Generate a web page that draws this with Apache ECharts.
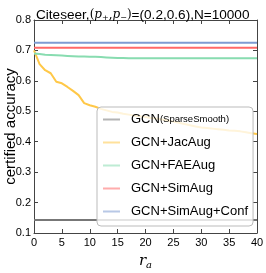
<!DOCTYPE html>
<html>
<head>
<meta charset="utf-8">
<script src="https://cdn.jsdelivr.net/npm/echarts@6/dist/echarts.min.js"></script>
<style>html,body{margin:0;padding:0;background:#fff}#c{width:266px;height:273px}</style>
</head>
<body>
<div id="c"></div>
<script>
const rValues = [0,1,2,3,4,5,6,7,8,9,10,11,12,13,14,15,16,17,18,19,20,21,22,23,24,25,26,27,28,29,30,31,32,33,34,35,36,37,38,39,40];
const seriesNames = ['GCN(SparseSmooth)','GCN+JacAug','GCN+FAEAug','GCN+SimAug','GCN+SimAug+Conf'];
const sparseSmooth = [0.143,0.143,0.143,0.143,0.143,0.143,0.143,0.143,0.143,0.143,0.143,0.143,0.143,0.143,0.143,0.143,0.143,0.143,0.143,0.143,0.143,0.143,0.143,0.143,0.143,0.143,0.143,0.143,0.143,0.143,0.143,0.143,0.143,0.143,0.143,0.143,0.143,0.143,0.143,0.143,0.143];
const jacAug = [0.700,0.655,0.635,0.625,0.597,0.592,0.580,0.567,0.553,0.527,0.520,0.515,0.508,0.503,0.498,0.496,0.492,0.489,0.486,0.484,0.481,0.478,0.476,0.473,0.470,0.466,0.462,0.458,0.454,0.450,0.447,0.445,0.443,0.441,0.439,0.437,0.436,0.434,0.431,0.428,0.425];
const faeAug = [0.690,0.688,0.686,0.685,0.684,0.683,0.682,0.681,0.680,0.680,0.679,0.679,0.678,0.677,0.676,0.675,0.675,0.674,0.674,0.674,0.674,0.674,0.674,0.674,0.674,0.674,0.674,0.674,0.674,0.674,0.674,0.674,0.674,0.674,0.674,0.674,0.674,0.674,0.674,0.674,0.674];
const simAug = [0.709,0.709,0.709,0.709,0.709,0.709,0.709,0.709,0.709,0.709,0.709,0.709,0.709,0.709,0.709,0.709,0.709,0.709,0.709,0.709,0.709,0.709,0.709,0.709,0.709,0.709,0.709,0.709,0.709,0.709,0.709,0.709,0.709,0.709,0.709,0.709,0.709,0.709,0.709,0.709,0.709];
const simAugConf = [0.725,0.725,0.725,0.725,0.725,0.725,0.725,0.725,0.725,0.725,0.725,0.725,0.725,0.725,0.725,0.725,0.725,0.725,0.725,0.725,0.725,0.725,0.725,0.725,0.725,0.725,0.725,0.725,0.725,0.725,0.725,0.725,0.725,0.725,0.725,0.725,0.725,0.725,0.725,0.725,0.725];
const xTicks = {min:0, max:40, interval:5};
const yTicks = {min:0.1, max:0.8, interval:0.1};

const colors = ['#777777','#ffc848','#88dcb0','#ff6868','#7e9bd2'];
const allData = [sparseSmooth, jacAug, faeAug, simAug, simAugConf];
const FONT = 'Liberation Sans';

const chart = echarts.init(document.getElementById('c'));
const axisCommon = {
  axisLine:{show:true, onZero:false, lineStyle:{color:'#444', width:1}},
  axisTick:{show:true, inside:true, length:4, lineStyle:{color:'#444'}},
  splitLine:{show:false}
};
chart.setOption({
  animation:false,
  textStyle:{fontFamily:FONT},
  title:{
    left:31, top:3,
    text:'{a|Citeseer,}{m|(}{p|p}{s|+}{m|,}{p|p}{s|−}{m|)}{a|=(0.2,0.6),N=10000}',
    textStyle:{
      fontWeight:'normal',
      rich:{
        a:{fontFamily:FONT, fontSize:13.6, fontWeight:'normal', color:'#000'},
        m:{fontFamily:'DejaVu Serif', fontSize:12, fontWeight:'normal', color:'#000'},
        p:{fontFamily:'DejaVu Serif', fontStyle:'italic', fontWeight:'normal', fontSize:12, color:'#000'},
        s:{fontFamily:'DejaVu Serif', fontSize:8, fontWeight:'normal', color:'#000', verticalAlign:'bottom', padding:[6,0,0,0]}
      }
    }
  },
  grid:{left:34, right:9, top:20, bottom:40, containLabel:false, outerBoundsMode:'none'},
  legend:{
    orient:'vertical', left:97, top:107,
    data:seriesNames.map(n=>({name:n, itemStyle:{opacity:0.55}})),
    icon:'rect', itemWidth:17, itemHeight:2, itemGap:10,
    padding:[6,5,8,6],
    backgroundColor:'rgba(255,255,255,0.8)',
    borderColor:'#bbbbbb', borderWidth:1, borderRadius:4,
    formatter:function(n){
      if(n==='GCN(SparseSmooth)') return '{a|GCN}{b|(SparseSmooth)}';
      return '{a|'+n+'}';
    },
    textStyle:{
      padding:[0,0,0,6],
      rich:{
        a:{fontFamily:FONT, fontSize:13, color:'#000', lineHeight:14},
        b:{fontFamily:FONT, fontSize:9.5, color:'#000', lineHeight:14}
      }
    }
  },
  xAxis:[
    Object.assign({type:'value', min:xTicks.min, max:xTicks.max, interval:xTicks.interval,
      axisLabel:{fontSize:11, color:'#000', margin:4},
      name:'{r|r}{a|a}', nameLocation:'middle', nameGap:19, nameMoveOverlap:false,
      nameTextStyle:{rich:{
        r:{fontFamily:'DejaVu Serif', fontStyle:'italic', fontSize:15, color:'#000'},
        a:{fontFamily:'DejaVu Serif', fontStyle:'italic', fontSize:10, color:'#000', verticalAlign:'bottom', padding:[8,0,0,0]}
      }}
    }, axisCommon),
    Object.assign({type:'value', position:'top', min:xTicks.min, max:xTicks.max, interval:xTicks.interval,
      axisLabel:{show:false}}, axisCommon)
  ],
  yAxis:[
    Object.assign({type:'value', min:yTicks.min, max:yTicks.max, interval:yTicks.interval,
      axisLabel:{fontSize:11, color:'#000', margin:3, formatter:v=>v.toFixed(1)},
      name:'certified accuracy', nameLocation:'middle', nameGap:16, nameMoveOverlap:false,
      nameTextStyle:{fontFamily:FONT, fontSize:15, color:'#000'}
    }, axisCommon),
    Object.assign({type:'value', position:'right', min:yTicks.min, max:yTicks.max, interval:yTicks.interval,
      axisLabel:{show:false}}, axisCommon)
  ],
  series: seriesNames.map((n,i)=>({
    name:n, type:'line', showSymbol:false, symbol:'none',
    color:colors[i],
    lineStyle:{width:2, color:colors[i]},
    z: i===0 ? 1 : 2,
    data: rValues.map((r,j)=>[r, allData[i][j]])
  }))
});
</script>
</body>
</html>
